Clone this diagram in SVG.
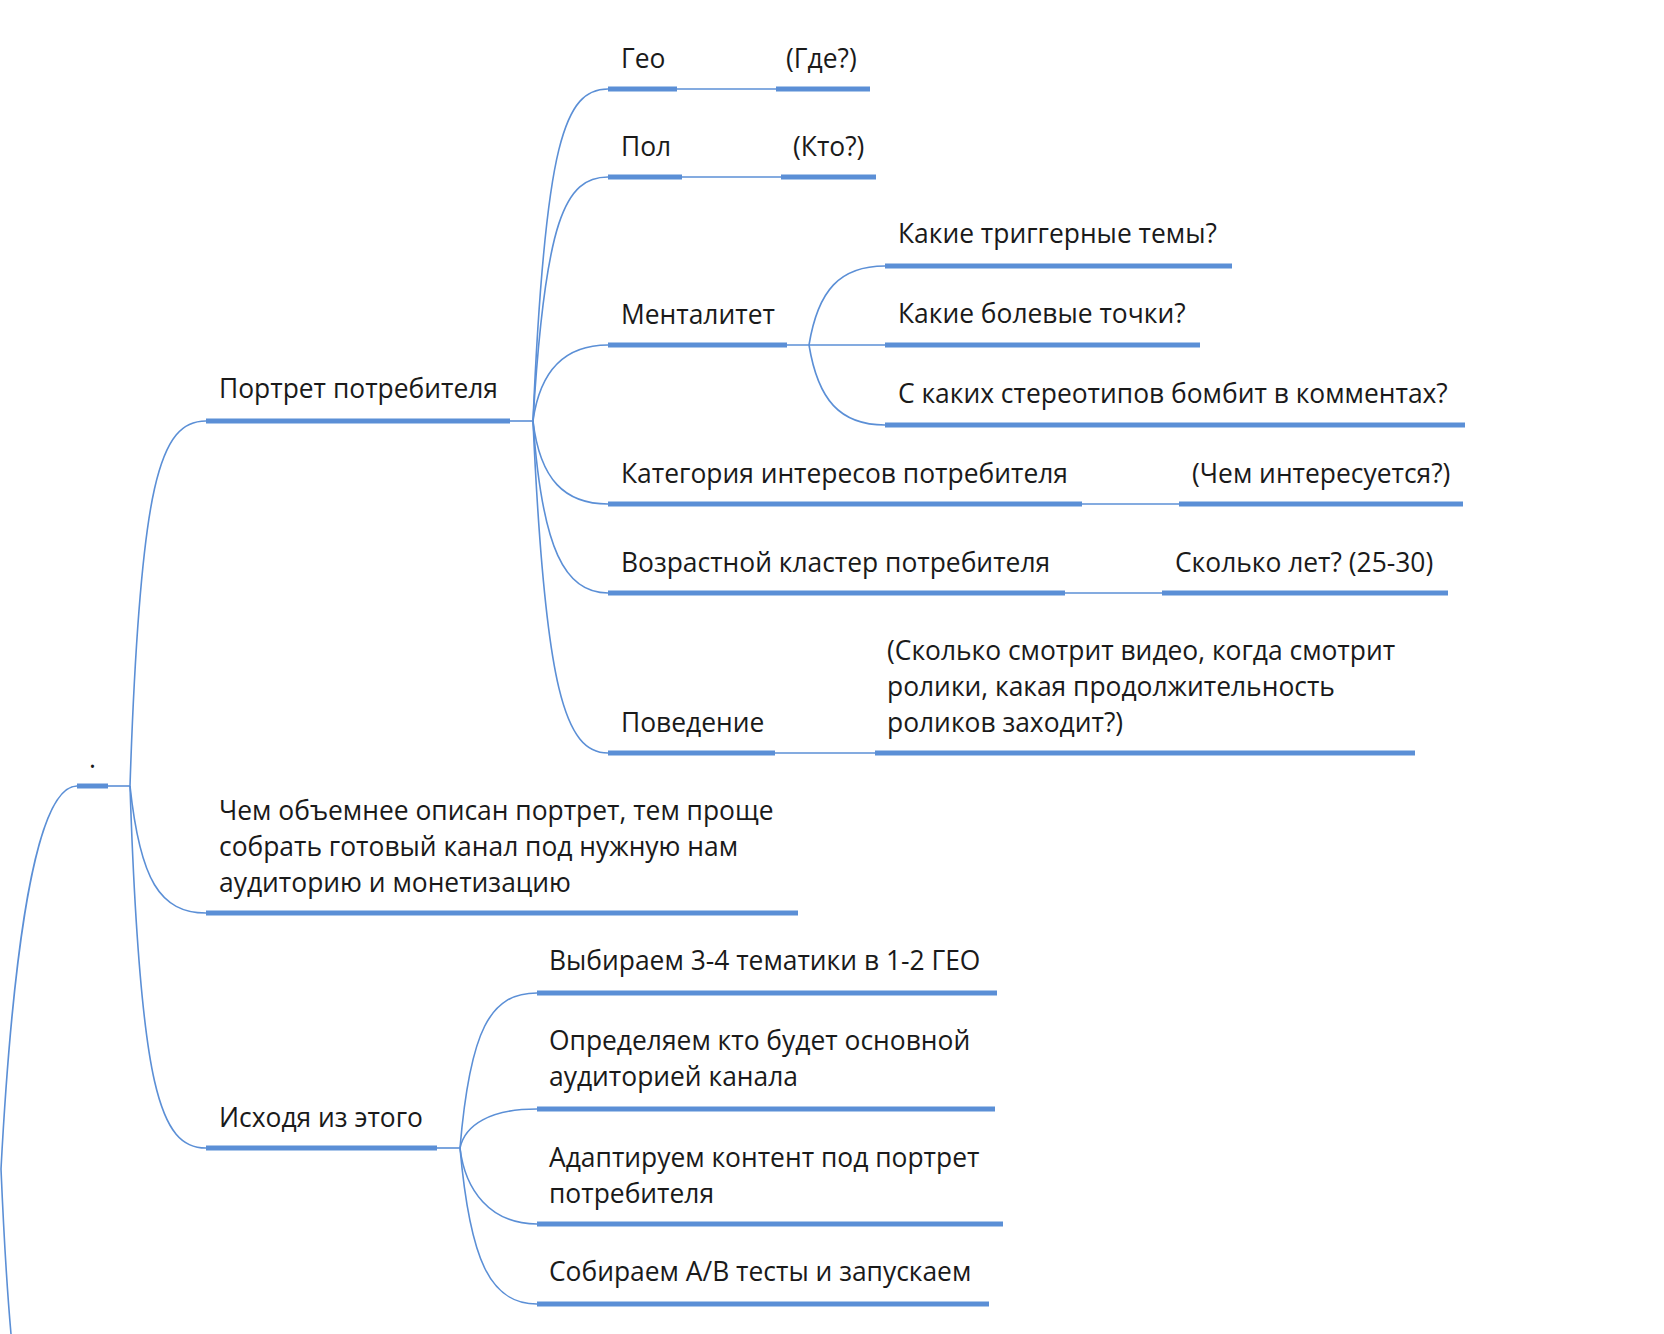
<svg xmlns="http://www.w3.org/2000/svg" width="1664" height="1334" viewBox="0 0 1664 1334">
<style>
.t{font-family:"Open Sans","Noto Sans",sans-serif;font-size:26.4px;fill:#1a1a1a}
.b{stroke:#5b8fd6;stroke-width:5;fill:none}
.c{stroke:#5b8fd6;stroke-width:1.6;fill:none}
</style>
<rect width="1664" height="1334" fill="#fff"/>
<g id="connectors">
<path class="c" d="M77,786 C30,786 10,1000 1,1169 C4,1240 8,1300 11,1334"/>
<path class="c" d="M108,786 H130"/>
<path class="c" d="M130,786 C140,480 160,421 206,421"/>
<path class="c" d="M130,786 C140,880 160,913 206,913"/>
<path class="c" d="M130,786 C140,1090 160,1148 206,1148"/>
<path class="c" d="M510,421 H533"/>
<path class="c" d="M533,421 C545,140 565,89 608,89"/>
<path class="c" d="M533,421 C545,220 565,177 608,177"/>
<path class="c" d="M533,421 C540,370 565,345 608,345"/>
<path class="c" d="M533,421 C540,480 565,504 608,504"/>
<path class="c" d="M533,421 C542,550 565,593 608,593"/>
<path class="c" d="M533,421 C545,690 565,753 608,753"/>
<path class="c" d="M677,89 H776"/>
<path class="c" d="M682,177 H781"/>
<path class="c" d="M1082,504 H1179"/>
<path class="c" d="M1065,593 H1162"/>
<path class="c" d="M775,753 H875"/>
<path class="c" d="M787,345 H885"/>
<path class="c" d="M809,345 C818,290 840,266 885,266"/>
<path class="c" d="M809,345 C818,400 840,425 885,425"/>
<path class="c" d="M437,1148 H460"/>
<path class="c" d="M460,1148 C470,1030 490,993 537,993"/>
<path class="c" d="M460,1148 C465,1125 490,1109 537,1109"/>
<path class="c" d="M460,1148 C465,1190 490,1224 537,1224"/>
<path class="c" d="M460,1148 C470,1260 490,1304 537,1304"/>
</g>
<g id="root"><text class="t" x="89" y="768">.</text><path class="b" d="M77,786 H108"/></g>
<g id="portret"><text class="t" x="219" y="398">Портрет потребителя</text><path class="b" d="M206,421 H510"/></g>
<g id="geo"><text class="t" x="621" y="68">Гео</text><path class="b" d="M608,89 H677"/></g>
<g id="geo-q"><text class="t" x="786" y="68">(Где?)</text><path class="b" d="M776,89 H870"/></g>
<g id="pol"><text class="t" x="621" y="156">Пол</text><path class="b" d="M608,177 H682"/></g>
<g id="pol-q"><text class="t" x="793" y="156">(Кто?)</text><path class="b" d="M781,177 H876"/></g>
<g id="mental"><text class="t" x="621" y="324">Менталитет</text><path class="b" d="M608,345 H787"/></g>
<g id="trigger"><text class="t" x="898" y="243">Какие триггерные темы?</text><path class="b" d="M885,266 H1232"/></g>
<g id="bol"><text class="t" x="898" y="323">Какие болевые точки?</text><path class="b" d="M885,345 H1200"/></g>
<g id="stereo"><text class="t" x="898" y="403">С каких стереотипов бомбит в комментах?</text><path class="b" d="M885,425 H1465"/></g>
<g id="kat"><text class="t" x="621" y="483">Категория интересов потребителя</text><path class="b" d="M608,504 H1082"/></g>
<g id="kat-q"><text class="t" x="1192" y="483">(Чем интересуется?)</text><path class="b" d="M1179,504 H1463"/></g>
<g id="voz"><text class="t" x="621" y="572">Возрастной кластер потребителя</text><path class="b" d="M608,593 H1065"/></g>
<g id="voz-q"><text class="t" x="1175" y="572">Сколько лет? (25-30)</text><path class="b" d="M1162,593 H1448"/></g>
<g id="pov"><text class="t" x="621" y="732">Поведение</text><path class="b" d="M608,753 H775"/></g>
<g id="pov-q"><text class="t" x="887" y="660">(Сколько смотрит видео, когда смотрит</text><text class="t" x="887" y="696">ролики, какая продолжительность</text><text class="t" x="887" y="732">роликов заходит?)</text><path class="b" d="M875,753 H1415"/></g>
<g id="chem"><text class="t" x="219" y="820">Чем объемнее описан портрет, тем проще</text><text class="t" x="219" y="856">собрать готовый канал под нужную нам</text><text class="t" x="219" y="892">аудиторию и монетизацию</text><path class="b" d="M206,913 H798"/></g>
<g id="ishod"><text class="t" x="219" y="1127">Исходя из этого</text><path class="b" d="M206,1148 H437"/></g>
<g id="vybir"><text class="t" x="549" y="970">Выбираем 3-4 тематики в 1-2 ГЕО</text><path class="b" d="M537,993 H997"/></g>
<g id="opred"><text class="t" x="549" y="1050">Определяем кто будет основной</text><text class="t" x="549" y="1086">аудиторией канала</text><path class="b" d="M537,1109 H995"/></g>
<g id="adapt"><text class="t" x="549" y="1167">Адаптируем контент под портрет</text><text class="t" x="549" y="1203">потребителя</text><path class="b" d="M537,1224 H1003"/></g>
<g id="sobir"><text class="t" x="549" y="1281">Собираем A/B тесты и запускаем</text><path class="b" d="M537,1304 H989"/></g>
</svg>
